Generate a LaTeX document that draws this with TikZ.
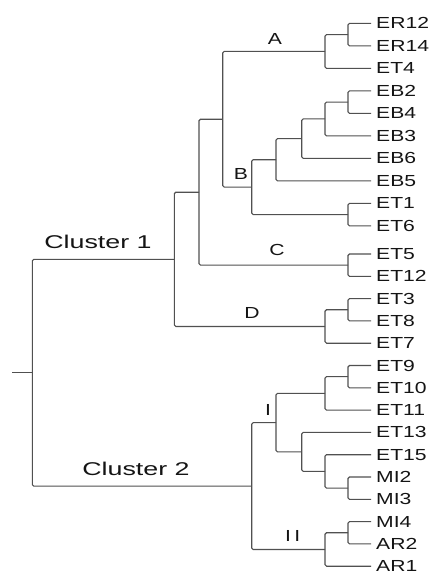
\documentclass[tikz,border=0pt]{standalone}
\usepackage{fontspec}
\newfontfamily\lblfont{Liberation Sans}
\newcommand{\widetxt}[2][1.32]{\scalebox{#1}[1]{#2}}
\definecolor{branch}{RGB}{80,80,80}
\definecolor{txt}{RGB}{20,20,20}
\begin{document}
\begin{tikzpicture}[x=1pt,y=-1pt,
  leaf/.style={anchor=west,inner xsep=5pt,inner ysep=0pt,font=\lblfont\fontsize{16}{17}\selectfont,text=txt},
  tag/.style={inner sep=0pt,font=\lblfont\fontsize{16}{17}\selectfont,text=txt},
  clus/.style={inner sep=0pt,font=\lblfont\fontsize{18.5}{20}\selectfont,text=txt},
  br/.style={draw=branch,line width=1.1pt,rounded corners=1.5pt}]
\useasboundingbox (0,0) rectangle (433,571);
% leaves
\foreach \nm/\lab/\yy in {er12/ER12/23.3, er14/ER14/45.8, et4/ET4/68.3, eb2/EB2/90.8, eb4/EB4/113.3, eb3/EB3/135.8, eb6/EB6/158.3, eb5/EB5/180.8, et1/ET1/203.3, et6/ET6/225.8, et5/ET5/254, et12/ET12/276.3, et3/ET3/298.6, et8/ET8/320.9, et7/ET7/343.2, et9/ET9/365.5, et10/ET10/387.8, et11/ET11/410.1, et13/ET13/432.4, et15/ET15/454.7, mi2/MI2/477, mi3/MI3/499.3, mi4/MI4/521.6, ar2/AR2/543.9, ar1/AR1/566.2}
  {\node[leaf] (\nm) at (371,\yy) {\widetxt{\lab}};}
% internal points
\coordinate (nA1) at (348,34.55);
\coordinate (nA) at (325,51.4);
\coordinate (nB1) at (348,102.05);
\coordinate (nB2) at (325,118.9);
\coordinate (nB3) at (301.7,138.6);
\coordinate (nB4) at (276,159.7);
\coordinate (nB5) at (348,214.55);
\coordinate (nB) at (251.7,187.1);
\coordinate (nAB) at (222.7,119.25);
\coordinate (nC) at (348,265.15);
\coordinate (nABC) at (199,192.2);
\coordinate (nD1) at (348,309.75);
\coordinate (nD) at (325,326.5);
\coordinate (nCl1) at (174.3,259.35);
\coordinate (nI1) at (348,376.65);
\coordinate (nI2) at (325,393.4);
\coordinate (nI3) at (348,488.15);
\coordinate (nI4) at (325,471.4);
\coordinate (nI5) at (301.7,451.9);
\coordinate (nI) at (276,422.65);
\coordinate (nII1) at (348,532.75);
\coordinate (nII) at (325,549.5);
\coordinate (nCl2) at (251.7,486.1);
\coordinate (root) at (32.3,372.7);
\coordinate (stub) at (12,372.7);
% branches
\draw[br] (er12) -| (nA1) |- (er14);
\draw[br] (nA1) -| (nA) |- (et4);
\draw[br] (eb2) -| (nB1) |- (eb4);
\draw[br] (nB1) -| (nB2) |- (eb3);
\draw[br] (nB2) -| (nB3) |- (eb6);
\draw[br] (nB3) -| (nB4) |- (eb5);
\draw[br] (et1) -| (nB5) |- (et6);
\draw[br] (nB4) -| (nB) |- (nB5);
\draw[br] (nA) -| (nAB) |- (nB);
\draw[br] (et5) -| (nC) |- (et12);
\draw[br] (nAB) -| (nABC) |- (nC);
\draw[br] (et3) -| (nD1) |- (et8);
\draw[br] (nD1) -| (nD) |- (et7);
\draw[br] (nABC) -| (nCl1) |- (nD);
\draw[br] (et9) -| (nI1) |- (et10);
\draw[br] (nI1) -| (nI2) |- (et11);
\draw[br] (mi2) -| (nI3) |- (mi3);
\draw[br] (et15) -| (nI4) |- (nI3);
\draw[br] (et13) -| (nI5) |- (nI4);
\draw[br] (nI2) -| (nI) |- (nI5);
\draw[br] (mi4) -| (nII1) |- (ar2);
\draw[br] (nII1) -| (nII) |- (ar1);
\draw[br] (nI) -| (nCl2) |- (nII);
\draw[br] (nCl1) -| (root) |- (nCl2);
\draw[br] (stub) -- (root);
% labels
\node[tag] (labA) at (275,38.5) {\widetxt{A}};
\node[tag] (labB) at (241,173.5) {\widetxt{B}};
\node[tag] (labC) at (277,250) {\widetxt{C}};
\node[tag] (labD) at (252,312.5) {\widetxt{D}};
\node[tag] (labI) at (268,410) {\widetxt{I}};
\node[tag] (labII) at (292.7,536) {\widetxt{I\,I}};
\node[clus] (cl1) at (98,241.5) {\widetxt[1.45]{Cluster 1}};
\node[clus] (cl2) at (136,469) {\widetxt[1.45]{Cluster 2}};
\end{tikzpicture}
\end{document}
